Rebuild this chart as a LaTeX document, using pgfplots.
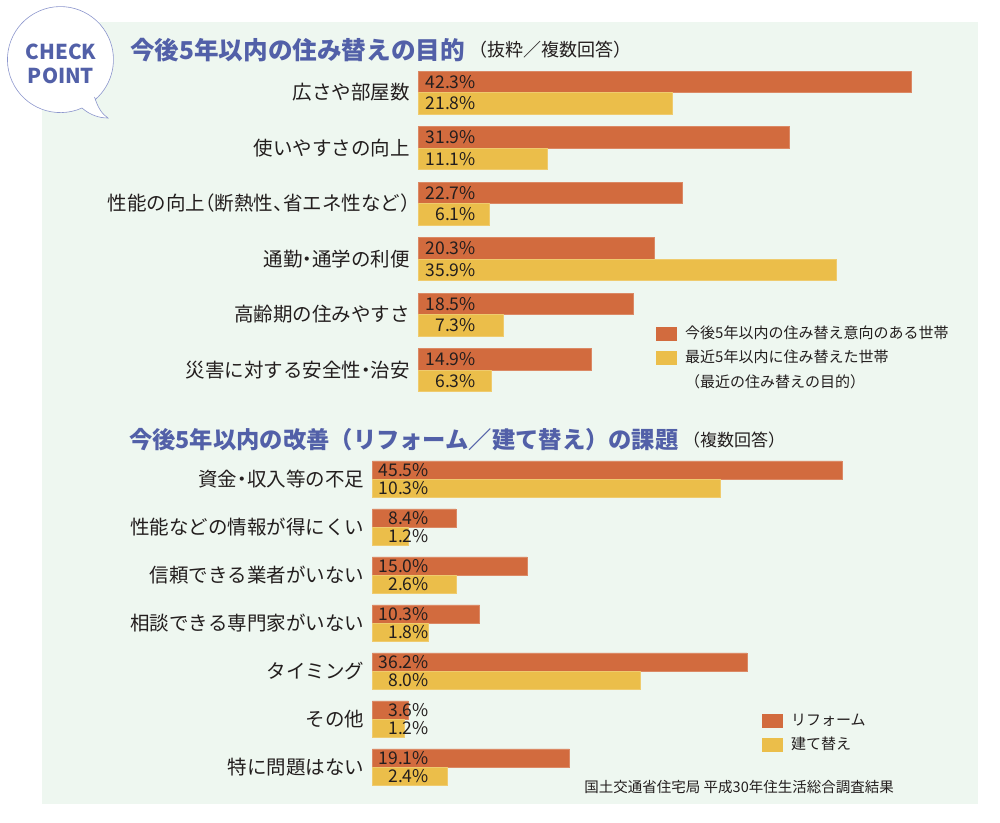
\documentclass[border=0pt]{standalone}
\usepackage{fontspec}
\setmainfont{Noto Sans CJK JP}
\usepackage{pgfplots}
\pgfplotsset{compat=1.18}
\usepackage{pgfplotstable}

\definecolor{bg}{RGB}{238,247,240}
\definecolor{reform}{RGB}{210,107,62}
\definecolor{rebuild}{RGB}{235,190,74}
\definecolor{titleblue}{RGB}{82,96,168}
\definecolor{bubbleline}{RGB}{140,150,205}
\definecolor{txt}{RGB}{35,30,30}

\newcommand\labfont{\fontsize{19.5}{22}\selectfont}
\newcommand\pctfont{\fontsize{17.5}{20}\selectfont}
\newcommand\legfont{\fontsize{15}{18}\selectfont}
\newcommand\hw[1]{{\addfontfeatures{RawFeature=+halt}#1}}

% top: a = current plan, b = recent movers
\pgfplotstableread{
y a b
5 42.3 21.8
4 31.9 11.1
3 22.7 6.1
2 20.3 35.9
1 18.5 7.3
0 14.9 6.3
}\topdata

% bottom: a/b = printed values (reform / rebuild), al/bl = bar lengths as drawn
\pgfplotstableread{
y a al b bl
6 45.5 45.5 10.3 33.7
5 8.4 8.1 1.2 3.5
4 15.0 15.0 2.6 8.1
3 10.3 10.4 1.8 5.4
2 36.2 36.3 8.0 26.0
1 3.6 3.5 1.2 3.1
0 19.1 19.1 2.4 7.3
}\botdata

\pgfplotsset{
  barchart/.style={
    xbar,
    axis line style={draw=none}, tick style={draw=none}, major tick length=0pt,
    xtick=\empty, xmin=0,
    clip=false,
    /pgf/number format/assume math mode=true,
    yticklabel style={anchor=east, inner sep=0pt, xshift=-8pt, font=\labfont, text=txt},
    legend cell align=left,
    legend image code/.code={\fill[##1, draw=none] (0pt,-7pt) rectangle (21pt,7pt);},
  },
  pct/.style 2 args={
    nodes near coords={\pgfmathprintnumber[fixed,fixed zerofill,precision=1]{\pgfplotspointmeta}\%},
    visualization depends on=rawx \as \rx,
    every node near coord/.append style={anchor=east, inner sep=0pt, font=\pctfont, text=txt, xshift={(#1-\rx)*#2pt}},
  },
}

\begin{document}
\begin{tikzpicture}[x=1pt,y=-1pt]
\useasboundingbox (0,0) rectangle (1000,822);
\fill[white] (0,0) rectangle (1000,822);
\fill[bg] (42,22) rectangle (978,804);

% speech bubble
\draw[bubbleline, fill=white, line width=0.6pt]
  (94.5,97) .. controls (98,108) and (102,114) .. (108,118)
  .. controls (99,118) and (90,115) .. (82,108)
  arc[start angle=66, end angle=409, x radius=53, y radius=53];
\node[font=\bfseries\fontsize{20.5}{24}\selectfont, text=titleblue, align=center, inner sep=0pt] at (61,64) {CHECK\\POINT};

% titles
\node[anchor=west, inner sep=0pt, font=\bfseries\fontsize{24.6}{28}\selectfont, text=titleblue] (t1) at (130,50) {今後5年以内の住み替えの目的};
\node[anchor=west, inner sep=0pt, font=\fontsize{18}{20}\selectfont, text=txt] at ([xshift=4pt]t1.east) {（抜粋／複数回答）};
\node[anchor=west, inner sep=0pt, font=\bfseries\fontsize{23.3}{28}\selectfont, text=titleblue] (t2) at (129,440) {今後5年以内の改善（リフォーム／建て替え）の課題};
\node[anchor=west, inner sep=0pt, font=\fontsize{17}{20}\selectfont, text=txt] at ([xshift=4pt]t2.east) {（複数回答）};

% top chart
\begin{axis}[barchart,
  at={(418pt,-64.75pt)}, anchor=north west,
  x=11.65pt, y=55.5pt,
  xmax=43.5, ymin=-0.5, ymax=5.5,
  bar width=21.5pt,
  ytick={0,...,5},
  yticklabels={災害に対する安全性\hw{・}治安, 高齢期の住みやすさ, 通勤\hw{・}通学の利便, 性能の向上\hw{（}断熱性\hw{、}省エネ性など\hw{）}, 使いやすさの向上, 広さや部屋数},
  legend style={at={(0.4696,0.2155)}, anchor=north west, draw=none, fill=none, inner sep=0pt,
    row sep=9.5pt, font=\legfont, text=txt,
    nodes={inner sep=0pt, text height=12pt, text depth=3pt},
    /tikz/every odd column/.append style={column sep=8pt}},
]
\addplot[fill=reform, draw=reform!80!white, line width=0.5pt, bar shift=10.75pt, pct={4.98}{11.65}] table[x=a, y=y] {\topdata};
\addlegendentry{今後5年以内の住み替え意向のある世帯}
\addplot[fill=rebuild, draw=rebuild!80!white, line width=0.5pt, bar shift=-10.75pt, pct={4.98}{11.65}] table[x=b, y=y] {\topdata};
\addlegendentry{最近5年以内に住み替えた世帯}
\addlegendimage{empty legend}
\addlegendentry{（最近の住み替えの目的）}
\end{axis}

% bottom chart
\begin{axis}[barchart,
  at={(372.3pt,-455.3pt)}, anchor=north west,
  x=10.32pt, y=48pt,
  xmax=46.5, ymin=-0.5, ymax=6.5,
  bar width=18.4pt,
  ytick={0,...,6},
  yticklabels={特に問題はない, その他, タイミング, 相談できる専門家がいない, 信頼できる業者がいない, 性能などの情報が得にくい, 資金\hw{・}収入等の不足},
  legend style={at={(0.812,0.2307)}, anchor=north west, draw=none, fill=none, inner sep=0pt,
    row sep=9pt, font=\legfont, text=txt,
    nodes={inner sep=0pt, text height=12pt, text depth=3pt},
    /tikz/every odd column/.append style={column sep=8pt}},
]
\addplot[fill=reform, draw=reform!80!white, line width=0.5pt, bar shift=9.2pt, point meta=explicit, pct={5.5}{10.32}] table[x=al, y=y, meta=a] {\botdata};
\addlegendentry{リフォーム}
\addplot[fill=rebuild, draw=rebuild!80!white, line width=0.5pt, bar shift=-9.2pt, point meta=explicit, pct={5.5}{10.32}] table[x=bl, y=y, meta=b] {\botdata};
\addlegendentry{建て替え}
\end{axis}

\node[anchor=east, inner sep=0pt, font=\fontsize{14.5}{17}\selectfont, text=txt] at (894,787) {国土交通省住宅局 平成30年住生活総合調査結果};
\end{tikzpicture}
\end{document}
